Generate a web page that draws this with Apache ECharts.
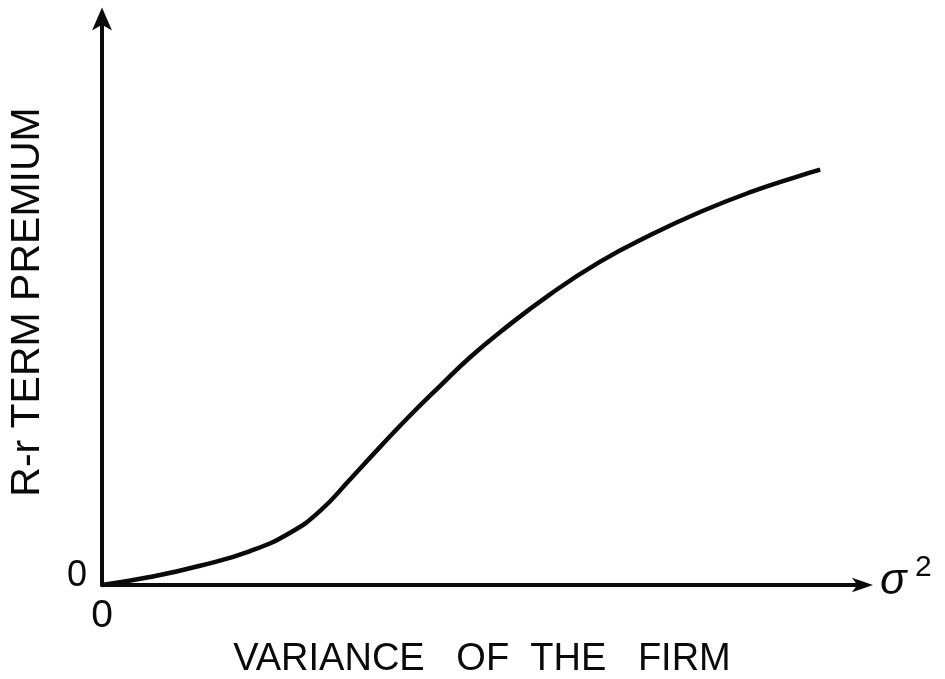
<!DOCTYPE html>
<html><head><meta charset="utf-8">
<script src="https://cdn.jsdelivr.net/npm/echarts@6/dist/echarts.min.js"></script>
<style>html,body{margin:0;padding:0;background:#fff}#c{width:945px;height:679px}</style>
</head><body><div id="c"></div>
<script>
// Values (arbitrary units: x 0..10, y 0..10)
const varianceX = [0, 0.63, 1.29, 1.95, 2.47, 2.87, 3.26, 3.66, 4.05, 4.45, 4.84, 5.24, 5.90, 6.55, 7.21, 7.87, 8.53, 9.18, 9.45];
const premiumY  = [0, 0.14, 0.34, 0.60, 0.92, 1.31, 1.86, 2.44, 2.99, 3.52, 4.02, 4.47, 5.14, 5.71, 6.18, 6.59, 6.94, 7.23, 7.34];
const xTickLabels = ['0'];
const yTickLabels = ['0'];
const xTitle = 'VARIANCE   OF  THE   FIRM';
const yTitle = 'R-r TERM PREMIUM';
const xEndSymbol = 'σ';
const xEndSup = '2';

const ink = '#0a0a0a';
const font = 'Liberation Sans, Arial, sans-serif';
const points = varianceX.map((x, i) => [x, premiumY[i]]);

const chart = echarts.init(document.getElementById('c'), null, {renderer: 'canvas'});
chart.setOption({
  backgroundColor: '#fff',
  animation: false,
  grid: {left: 102, right: 83, top: 19, bottom: 94, containLabel: false, outerBoundsMode: 'none'},
  xAxis: {
    type: 'value', min: 0, max: 10, interval: 10,
    name: xTitle, nameLocation: 'middle', nameGap: 55,
    nameTextStyle: {fontFamily: font, fontSize: 38, color: ink},
    axisLine: {show: true, symbol: ['none', 'arrow'], symbolSize: [11, 21], symbolOffset: [0, 11],
      lineStyle: {color: ink, width: 4}},
    axisTick: {show: false},
    splitLine: {show: false},
    axisLabel: {fontFamily: font, fontSize: 39, color: ink, margin: 12,
      showMinLabel: true, showMaxLabel: false,
      formatter: v => (v === 0 ? xTickLabels[0] : '')}
  },
  yAxis: {
    type: 'value', min: 0, max: 10, interval: 10,
    name: yTitle, nameLocation: 'middle', nameGap: 54, nameRotate: 90,
    nameTextStyle: {fontFamily: font, fontSize: 41, color: ink},
    axisLine: {show: true, symbol: ['none', 'arrow'], symbolSize: [15, 23], symbolOffset: [0, 11.5],
      lineStyle: {color: ink, width: 4}},
    axisTick: {show: false},
    splitLine: {show: false},
    axisLabel: {fontFamily: font, fontSize: 36, color: ink, margin: 15,
      verticalAlign: 'bottom', lineHeight: 18,
      showMinLabel: true, showMaxLabel: false,
      formatter: v => (v === 0 ? yTickLabels[0] : '')}
  },
  graphic: [
    {type: 'text', x: 880, y: 582, style: {text: xEndSymbol, fontFamily: font, fontSize: 44,
      fontStyle: 'italic', fill: ink, align: 'left', verticalAlign: 'middle'}},
    {type: 'text', x: 915, y: 568, style: {text: xEndSup, fontFamily: font, fontSize: 30,
      fill: ink, align: 'left', verticalAlign: 'middle'}}
  ],
  series: [{
    type: 'line', data: points, smooth: 0.5, symbol: 'none',
    lineStyle: {color: ink, width: 4.5}, clip: false
  }]
});
</script></body></html>
